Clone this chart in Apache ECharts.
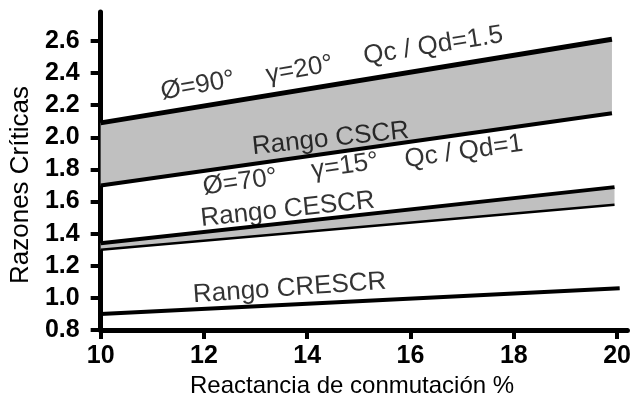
<!DOCTYPE html>
<html>
<head>
<meta charset="utf-8">
<script src="https://cdn.jsdelivr.net/npm/echarts@6/dist/echarts.min.js"></script>
<style>
  html, body { margin: 0; padding: 0; background: #fff; }
  #chart { width: 634px; height: 403px; }
</style>
</head>
<body>
<div id="chart"></div>
<script>
  // lineas
  var cscrX = [10, 19.9];
  var cscrTop = [2.09, 2.61];     // Ø=90° γ=20° Qc/Qd=1.5
  var cscrBottom = [1.70, 2.15];  // Ø=70° γ=15° Qc/Qd=1
  var cescrX = [10, 19.95];
  var cescrTop = [1.34, 1.69];
  var cescrBottom = [1.30, 1.58];
  var crescrX = [10, 20.05];
  var crescrLine = [0.90, 1.06];

  var xTicks = [10, 12, 14, 16, 18, 20];
  var yTicks = [0.8, 1.0, 1.2, 1.4, 1.6, 1.8, 2.0, 2.2, 2.4, 2.6];

  // textos sobre las curvas
  var noteText = ['Ø=90°', 'γ=20°', 'Qc / Qd=1.5', 'Rango CSCR', 'Ø=70°', 'γ=15°', 'Qc / Qd=1', 'Rango CESCR', 'Rango CRESCR'];
  var noteX = [11.88, 13.85, 16.44, 14.45, 12.70, 14.73, 17.03, 13.62, 13.66];
  var noteY = [2.32, 2.42, 2.57, 1.99, 1.72, 1.82, 1.91, 1.55, 1.06];
  var noteRot = [10, 10, 9, 6, 8, 8, 8, 6, 4];

  function pairs(xs, ys) {
    return ys.map(function (y, i) { return [xs[i], y]; });
  }

  // banda gris entre dos curvas
  function band(xs, top, bottom) {
    return {
      type: 'custom',
      z: 1,
      silent: true,
      data: [0],
      renderItem: function (params, api) {
        var up = pairs(xs, top).map(function (p) { return api.coord(p); });
        var down = pairs(xs, bottom).reverse().map(function (p) { return api.coord(p); });
        return {
          type: 'polygon',
          shape: { points: up.concat(down) },
          style: { fill: '#c0c0c0' }
        };
      }
    };
  }

  function line(xs, ys, w) {
    return {
      type: 'line', z: 3, symbol: 'none', silent: true,
      data: pairs(xs, ys),
      lineStyle: { color: '#000', width: w }
    };
  }

  var font = 'Liberation Sans, Arial, sans-serif';
  var chart = echarts.init(document.getElementById('chart'));
  var option = {
    animation: false,
    grid: { left: 100, right: 1, top: 12, bottom: 60 },
    xAxis: {
      type: 'value',
      min: 10,
      max: 20.2,
      name: 'Reactancia de conmutación %',
      nameLocation: 'middle',
      nameGap: 33,
      nameTextStyle: { color: '#000', fontSize: 24, fontFamily: font, padding: [0, 24, 0, 0] },
      axisLine: { lineStyle: { color: '#000', width: 5 } },
      axisTick: { show: true, length: 9, lineStyle: { color: '#000', width: 4 }, customValues: xTicks },
      axisLabel: { color: '#000', fontSize: 25, fontWeight: 'bold', fontFamily: font, margin: 14, customValues: xTicks },
      splitLine: { show: false }
    },
    yAxis: {
      type: 'value',
      min: 0.8,
      max: 2.78,
      name: 'Razones Críticas',
      nameLocation: 'middle',
      nameRotate: 90,
      nameGap: 66,
      nameTextStyle: { color: '#000', fontSize: 26, fontFamily: font, padding: [0, 28, 0, 0] },
      axisLine: { lineStyle: { color: '#000', width: 5 } },
      axisTick: { show: true, length: 10, lineStyle: { color: '#000', width: 4 }, customValues: yTicks },
      axisLabel: {
        color: '#000', fontSize: 25, fontWeight: 'bold', fontFamily: font, margin: 21,
        customValues: yTicks,
        formatter: function (v) { return v.toFixed(1); }
      },
      splitLine: { show: false }
    },
    series: [
      band(cscrX, cscrTop, cscrBottom),
      band(cescrX, cescrTop, cescrBottom),
      line(cscrX, cscrTop, 5),
      line(cscrX, cscrBottom, 4),
      line(cescrX, cescrTop, 4),
      line(cescrX, cescrBottom, 2.5),
      line(crescrX, crescrLine, 4),
      {
        type: 'scatter', z: 5, symbolSize: 0, silent: true,
        data: noteText.map(function (t, i) {
          return {
            name: t,
            value: [noteX[i], noteY[i]],
            label: { rotate: noteRot[i] }
          };
        }),
        label: {
          show: true,
          position: 'inside',
          formatter: '{b}',
          color: '#000',
          fontSize: 26,
          fontFamily: font
        }
      }
    ]
  };
  chart.setOption(option);
</script>
</body>
</html>
